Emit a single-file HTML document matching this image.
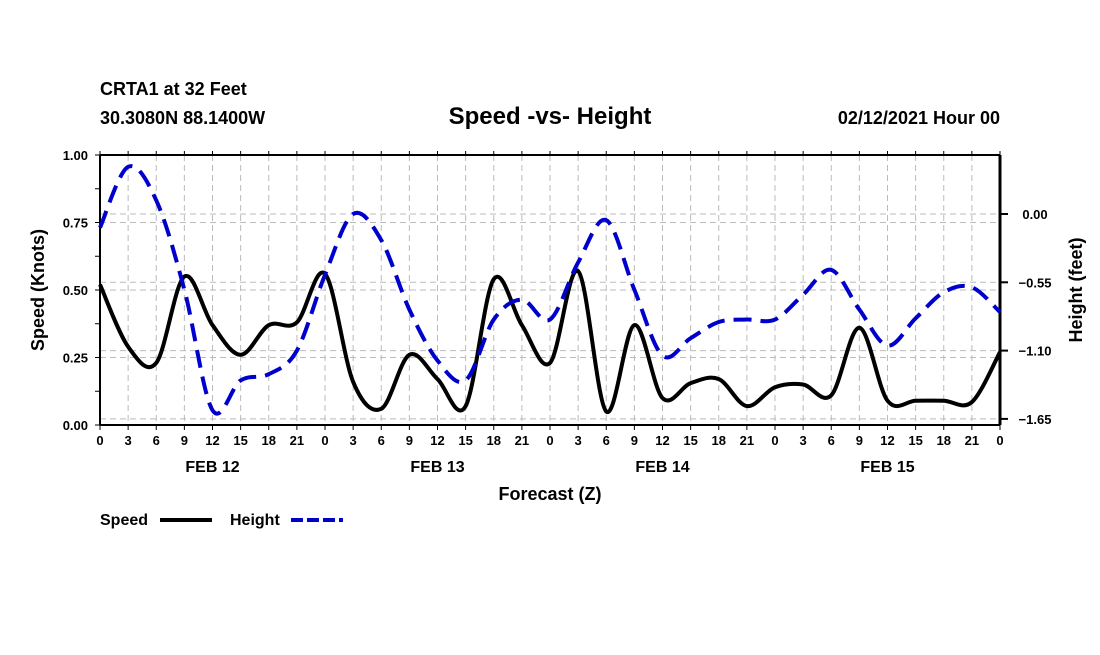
<!DOCTYPE html>
<html><head><meta charset="utf-8"><style>
body{margin:0;background:#fff;width:1100px;height:650px;overflow:hidden;font-family:"Liberation Sans",sans-serif}
</style></head><body>
<svg id="chart" width="1100" height="650" xmlns="http://www.w3.org/2000/svg" font-family="Liberation Sans, sans-serif" font-weight="bold">
<text x="100" y="95" font-size="18">CRTA1 at 32 Feet</text>
<text x="100" y="124" font-size="18">30.3080N 88.1400W</text>
<text x="550" y="124" font-size="24" text-anchor="middle">Speed -vs- Height</text>
<text x="1000" y="124" font-size="18" text-anchor="end">02/12/2021 Hour 00</text>
<g id="grid"></g><g id="axes"></g><g id="series"></g>
<text x="550" y="500" font-size="18" text-anchor="middle">Forecast (Z)</text>
<text transform="translate(44,290) rotate(-90)" font-size="18" text-anchor="middle">Speed (Knots)</text>
<text transform="translate(1082,290) rotate(-90)" font-size="18" text-anchor="middle">Height (feet)</text>
<g>
<text x="100" y="525" font-size="16">Speed</text>
<line x1="160" y1="520" x2="212" y2="520" stroke="#000" stroke-width="4"/>
<text x="230" y="525" font-size="16">Height</text>
<line x1="291" y1="520" x2="343" y2="520" stroke="#00c" stroke-width="4" stroke-dasharray="12,4"/>
</g>
</svg>
<script>
const hours=[0,3,6,9,12,15,18,21,24,27,30,33,36,39,42,45,48,51,54,57,60,63,66,69,72,75,78,81,84,87,90,93,96];
const speed=[.52,.29,.23,.55,.37,.26,.37,.38,.56,.16,.06,.26,.17,.07,.54,.37,.23,.57,.05,.37,.10,.155,.17,.07,.14,.15,.11,.36,.09,.09,.09,.085,.27];
const height=[-0.11,0.38,0.11,-0.61,-1.58,-1.34,-1.29,-1.10,-0.49,0,-0.21,-0.77,-1.18,-1.34,-0.85,-0.69,-0.85,-0.39,-0.05,-0.61,-1.14,-1.0,-0.87,-0.85,-0.85,-0.65,-0.45,-0.77,-1.06,-0.84,-0.63,-0.59,-0.79];
const speedTicks=[0,0.25,0.5,0.75,1.0];
const heightTicks=[0,-0.55,-1.10,-1.65];
const dayLabels=["FEB 12","FEB 13","FEB 14","FEB 15"];
const X0=100,X1=1000,Y0=425,Y1=155;
const xs=h=>X0+(h/96)*(X1-X0);
const ys=v=>Y0-v*(Y0-Y1);
const yh=h=>214-h/0.55*68.3;
const NS='http://www.w3.org/2000/svg';
function mk(parent,tag,attrs){const e=document.createElementNS(NS,tag);for(const k in attrs)e.setAttribute(k,attrs[k]);document.getElementById(parent).appendChild(e);return e;}
for(let h=0;h<=96;h+=3){const e=mk('grid','line',{x1:xs(h),x2:xs(h),y1:Y1,y2:Y0,stroke:'#bbb','stroke-dasharray':'6,4'});

}
speedTicks.forEach(v=>{const e=mk('grid','line',{x1:X0,x2:X1,y1:ys(v),y2:ys(v),stroke:'#bbb','stroke-dasharray':'6,4'});

});
heightTicks.forEach(v=>{const e=mk('grid','line',{x1:X0,x2:X1,y1:yh(v),y2:yh(v),stroke:'#bbb','stroke-dasharray':'6,4'});

});
[[X0,Y0,X1,Y0,2],[X0,Y1,X1,Y1,2],[X0,Y1,X0,Y0,2],[X1,Y1,X1,Y0,3]].forEach(a=>{const e=mk('axes','line',{x1:a[0],y1:a[1],x2:a[2],y2:a[3],stroke:'#000','stroke-width':a[4]});

});
for(let h=0;h<=96;h+=3){
const t=mk('axes','line',{x1:xs(h),x2:xs(h),y1:Y0,y2:Y0+5,stroke:'#000','stroke-width':1});


const t2=mk('axes','line',{x1:xs(h),x2:xs(h),y1:Y1,y2:Y1-4,stroke:'#000','stroke-width':1});


const l=mk('axes','text',{x:xs(h),y:Y0+20,'font-size':13,'text-anchor':'middle'});l.textContent=h%24;

}
dayLabels.forEach((d,i)=>{const l=mk('axes','text',{x:xs(i*24+12),y:Y0+47,'font-size':16,'text-anchor':'middle'});l.textContent=d;

});
for(let v=0;v<=1.001;v+=0.125){const t=mk('axes','line',{x1:X0-5,x2:X0,y1:ys(v),y2:ys(v),stroke:'#000'});

}
speedTicks.forEach(v=>{const l=mk('axes','text',{x:X0-12,y:ys(v)+5,'font-size':13,'text-anchor':'end'});l.textContent=v.toFixed(2);

});
heightTicks.forEach(v=>{const t=mk('axes','line',{x1:X1,x2:X1+8,y1:yh(v),y2:yh(v),stroke:'#000','stroke-width':2});


const l=mk('axes','text',{x:1035,y:yh(v)+5,'font-size':13,'text-anchor':'middle'});l.textContent=v.toFixed(2).replace('-','\u2212');

});
function smooth(pts){let d='M'+pts[0][0]+','+pts[0][1];for(let i=0;i<pts.length-1;i++){const p0=pts[Math.max(0,i-1)],p1=pts[i],p2=pts[i+1],p3=pts[Math.min(pts.length-1,i+2)];
d+=' C'+(p1[0]+(p2[0]-p0[0])/6)+','+(p1[1]+(p2[1]-p0[1])/6)+' '+(p2[0]-(p3[0]-p1[0])/6)+','+(p2[1]-(p3[1]-p1[1])/6)+' '+p2[0]+','+p2[1];}return d;}
const sp=mk('series','path',{d:smooth(hours.map((h,i)=>[xs(h),ys(speed[i])])),fill:'none',stroke:'#000','stroke-width':4,'stroke-linejoin':'round'});


const hp=mk('series','path',{d:smooth(hours.map((h,i)=>[xs(h),yh(height[i])])),fill:'none',stroke:'#00c','stroke-width':4,'stroke-dasharray':'18,9'});


</script>
</body></html>
